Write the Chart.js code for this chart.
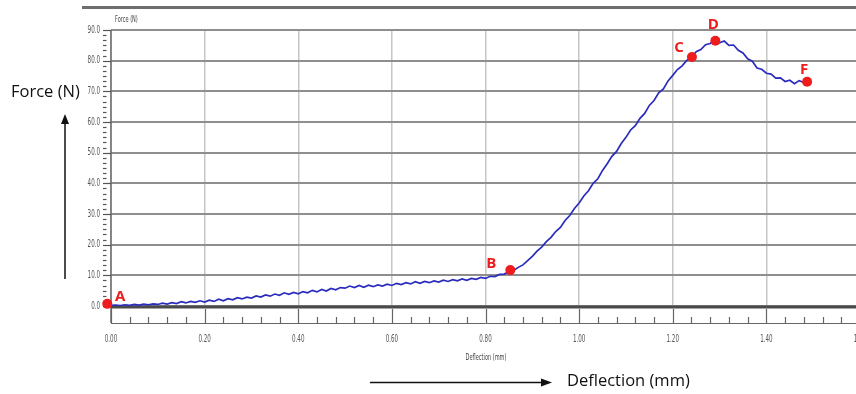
<!DOCTYPE html>
<html>
<head>
<meta charset="utf-8">
<script src="https://cdn.jsdelivr.net/npm/chart.js@4.4.1/dist/chart.umd.min.js"></script>
<style>
  html, body { margin: 0; padding: 0; background: #fff; overflow: hidden; }
  #wrap { width: 900px; height: 394px; }
</style>
</head>
<body>
<div id="wrap"><canvas id="chart" width="900" height="394"></canvas></div>
<script>
  // deflection (mm) and force (N)
  const deflection = [
    0.00, 0.01, 0.02, 0.03, 0.04, 0.05, 0.06, 0.07, 0.08, 0.09,
    0.10, 0.11, 0.12, 0.13, 0.14, 0.15, 0.16, 0.17, 0.18, 0.19,
    0.20, 0.21, 0.22, 0.23, 0.24, 0.25, 0.26, 0.27, 0.28, 0.29,
    0.30, 0.31, 0.32, 0.33, 0.34, 0.35, 0.36, 0.37, 0.38, 0.39,
    0.40, 0.41, 0.42, 0.43, 0.44, 0.45, 0.46, 0.47, 0.48, 0.49,
    0.50, 0.51, 0.52, 0.53, 0.54, 0.55, 0.56, 0.57, 0.58, 0.59,
    0.60, 0.61, 0.62, 0.63, 0.64, 0.65, 0.66, 0.67, 0.68, 0.69,
    0.70, 0.71, 0.72, 0.73, 0.74, 0.75, 0.76, 0.77, 0.78, 0.79,
    0.80, 0.81, 0.82, 0.83, 0.84, 0.85, 0.86, 0.87, 0.88, 0.89,
    0.90, 0.91, 0.92, 0.93, 0.94, 0.95, 0.96, 0.97, 0.98, 0.99,
    1.00, 1.01, 1.02, 1.03, 1.04, 1.05, 1.06, 1.07, 1.08, 1.09,
    1.10, 1.11, 1.12, 1.13, 1.14, 1.15, 1.16, 1.17, 1.18, 1.19,
    1.20, 1.21, 1.22, 1.23, 1.24, 1.25, 1.26, 1.27, 1.28, 1.29,
    1.30, 1.31, 1.32, 1.33, 1.34, 1.35, 1.36, 1.37, 1.38, 1.39,
    1.40, 1.41, 1.42, 1.43, 1.44, 1.45, 1.46, 1.47, 1.48, 1.49
  ];
  const force = [
    0.2, 0.3, 0.1, 0.4, 0.2, 0.5, 0.3, 0.6, 0.4, 0.7,
    0.5, 0.9, 0.6, 1.1, 0.8, 1.4, 1.0, 1.5, 1.2, 1.7,
    1.3, 1.9, 1.5, 2.2, 1.7, 2.4, 2.0, 2.7, 2.3, 2.9,
    2.6, 3.3, 2.9, 3.6, 3.2, 3.9, 3.5, 4.3, 3.8, 4.4,
    4.0, 4.7, 4.3, 5.1, 4.6, 5.4, 4.9, 5.7, 5.3, 6.0,
    5.8, 6.5, 6.0, 6.7, 6.1, 6.8, 6.3, 6.9, 6.5, 7.1,
    6.7, 7.4, 7.0, 7.6, 7.2, 7.9, 7.4, 8.0, 7.6, 8.2,
    7.8, 8.4, 8.0, 8.6, 8.2, 8.8, 8.4, 9.0, 8.7, 9.3,
    9.0, 9.7, 9.6, 10.3, 10.4, 11.2, 11.6, 12.6, 13.4, 14.8,
    16.2, 17.9, 19.2, 21.0, 22.4, 24.3, 25.6, 27.9, 29.5, 31.8,
    33.6, 35.9, 37.6, 40.0, 41.5, 44.2, 46.4, 48.8, 50.4, 53.0,
    55.0, 57.4, 58.8, 61.2, 62.8, 65.4, 67.0, 69.5, 70.8, 73.4,
    75.2, 77.1, 78.3, 80.1, 81.0, 82.9, 83.6, 85.2, 85.6, 86.9,
    85.8, 86.4, 85.0, 85.1, 83.4, 82.5, 80.6, 79.8, 77.6, 77.2,
    75.9, 75.6, 74.3, 74.4, 73.2, 73.6, 72.5, 73.5, 72.9, 73.1
  ];

  // labelled points
  const markerNames = ['A', 'B', 'C', 'D', 'F'];
  const markerDeflection = [-0.008, 0.853, 1.241, 1.291, 1.487];
  const markerForce = [0.7, 11.7, 81.2, 86.5, 73.1];
  // label offset from its dot, px
  const markerOffsets = [[13, -7], [-19, -6], [-13, -9], [-2, -16], [-3, -12]];

  const xTicks = { min: 0, max: 1.6, step: 0.2, minor: 0.04 };
  const yTicks = { min: 0, max: 90, step: 10, minor: 10 / 6 };

  const tinyFont = "'DejaVu Sans Condensed', 'DejaVu Sans', sans-serif";
  const bigFont = "'Open Sans', 'Noto Sans', sans-serif";

  // narrow grey text like the instrument software
  function narrowText(ctx, text, x, y, align, size, squeeze) {
    ctx.save();
    ctx.translate(x, y);
    ctx.scale(squeeze, 1);
    ctx.font = size + 'px ' + tinyFont;
    ctx.textAlign = align;
    ctx.textBaseline = 'middle';
    ctx.fillText(text, 0, 0);
    ctx.restore();
  }

  const frame = {
    id: 'frame',
    beforeDatasetsDraw(chart) {
      const { ctx, chartArea: a, scales: { x, y } } = chart;
      ctx.save();
      // y axis ruler
      ctx.strokeStyle = '#6a6a6a';
      ctx.lineWidth = 1.5;
      ctx.beginPath();
      ctx.moveTo(a.left, a.top);
      ctx.lineTo(a.left, a.bottom + 17);
      ctx.stroke();
      ctx.lineWidth = 1.2;
      ctx.strokeStyle = '#555';
      for (let i = 0; i <= 54; i++) {
        const v = yTicks.min + i * yTicks.minor;
        const py = Math.round(y.getPixelForValue(v)) + 0.5;
        const major = i % 6 === 0;
        ctx.beginPath();
        ctx.moveTo(a.left - 8, py);
        ctx.lineTo(major ? a.left : a.left - 4.5, py);
        ctx.stroke();
      }
      // x axis ruler
      const base = a.bottom + 17;
      ctx.strokeStyle = '#666';
      ctx.lineWidth = 1;
      ctx.beginPath();
      ctx.moveTo(a.left, base + 0.5);
      ctx.lineTo(a.right, base + 0.5);
      ctx.stroke();
      ctx.lineWidth = 1.2;
      for (let i = 0; i <= 40; i++) {
        const v = xTicks.min + i * xTicks.minor;
        const px = Math.round(x.getPixelForValue(v)) + 0.5;
        const major = i % 5 === 0;
        ctx.beginPath();
        ctx.moveTo(px, base);
        ctx.lineTo(px, major ? base - 14 : base - 6);
        ctx.stroke();
      }
      // zero line
      ctx.strokeStyle = '#4a4a4a';
      ctx.lineWidth = 3;
      ctx.beginPath();
      ctx.moveTo(a.left, y.getPixelForValue(0) + 1);
      ctx.lineTo(a.right, y.getPixelForValue(0) + 1);
      ctx.stroke();
      // separator line above the plot
      ctx.strokeStyle = '#6e6e6e';
      ctx.lineWidth = 3;
      ctx.beginPath();
      ctx.moveTo(82, 7.5);
      ctx.lineTo(chart.width, 7.5);
      ctx.stroke();
      // tick labels from the scales
      ctx.fillStyle = '#555';
      x.ticks.forEach((t) => {
        narrowText(ctx, t.value.toFixed(2), x.getPixelForValue(t.value), 339, 'center', 10, 0.62);
      });
      y.ticks.forEach((t) => {
        narrowText(ctx, t.value.toFixed(1), 100, y.getPixelForValue(t.value), 'right', 10, 0.62);
      });
      // small axis titles
      ctx.fillStyle = '#444';
      narrowText(ctx, 'Force (N)', 115, 20, 'left', 9, 0.62);
      narrowText(ctx, 'Deflection (mm)', 486, 358, 'center', 9, 0.62);
      ctx.restore();
    },
    afterDraw(chart) {
      const { ctx } = chart;
      ctx.save();
      // point letters
      const meta = chart.getDatasetMeta(0);
      ctx.fillStyle = '#ee1c1c';
      ctx.font = 'bold 15px ' + bigFont;
      ctx.textAlign = 'center';
      ctx.textBaseline = 'middle';
      meta.data.forEach((pt, i) => {
        ctx.fillText(markerNames[i], pt.x + markerOffsets[i][0], pt.y + markerOffsets[i][1]);
      });
      // outer captions with arrows
      ctx.fillStyle = '#111';
      ctx.strokeStyle = '#111';
      ctx.font = '16.5px ' + bigFont;
      ctx.textAlign = 'left';
      ctx.fillText('Force (N)', 11, 92);
      ctx.fillText('Deflection (mm)', 567, 381);
      ctx.lineWidth = 1.5;
      ctx.beginPath();
      ctx.moveTo(65, 279);
      ctx.lineTo(65, 122);
      ctx.stroke();
      ctx.beginPath();
      ctx.moveTo(65, 114);
      ctx.lineTo(61, 124);
      ctx.lineTo(69, 124);
      ctx.closePath();
      ctx.fill();
      ctx.beginPath();
      ctx.moveTo(370, 382.5);
      ctx.lineTo(543, 382.5);
      ctx.stroke();
      ctx.beginPath();
      ctx.moveTo(552, 382.5);
      ctx.lineTo(541, 378.5);
      ctx.lineTo(541, 386.5);
      ctx.closePath();
      ctx.fill();
      ctx.restore();
    }
  };

  new Chart(document.getElementById('chart'), {
    data: {
      datasets: [
        {
          type: 'scatter',
          data: markerDeflection.map((d, i) => ({ x: d, y: markerForce[i] })),
          backgroundColor: '#ee1c1c',
          borderWidth: 0,
          pointRadius: 5,
          clip: false,
          order: 0
        },
        {
          type: 'line',
          data: deflection.map((d, i) => ({ x: d, y: force[i] })),
          borderColor: '#2b2bbd',
          borderWidth: 1.7,
          pointRadius: 0,
          tension: 0,
          order: 1
        }
      ]
    },
    options: {
      responsive: false,
      animation: false,
      devicePixelRatio: 1,
      layout: { padding: { left: 0, top: 30, right: 40, bottom: 0 } },
      plugins: { legend: { display: false }, tooltip: { enabled: false } },
      scales: {
        x: {
          type: 'linear',
          min: xTicks.min,
          max: xTicks.max,
          afterFit: (s) => { s.height = 88; },
          border: { display: false },
          grid: { color: '#c6c6c6', lineWidth: 1.5, drawTicks: false },
          ticks: { stepSize: xTicks.step, display: false }
        },
        y: {
          type: 'linear',
          min: yTicks.min,
          max: yTicks.max,
          afterFit: (s) => { s.width = 111; },
          border: { display: false },
          grid: { color: '#8e8e8e', lineWidth: 2, drawTicks: false },
          ticks: { stepSize: yTicks.step, display: false }
        }
      }
    },
    plugins: [frame]
  });
</script>
</body>
</html>
